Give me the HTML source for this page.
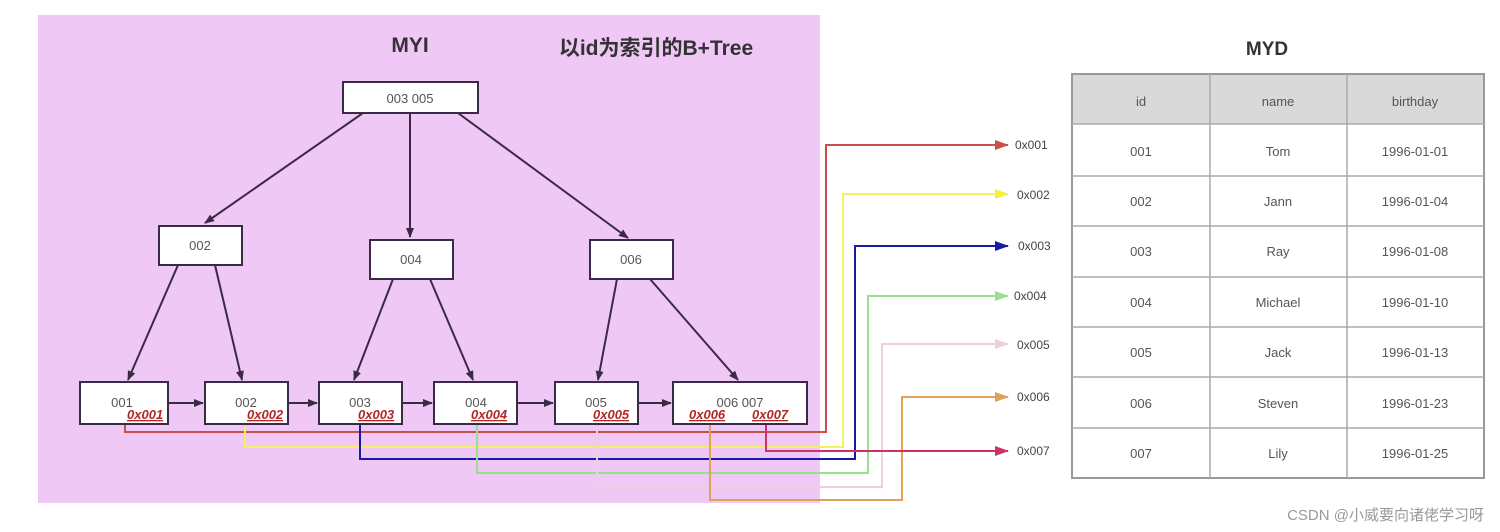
<!DOCTYPE html>
<html><head><meta charset="utf-8"><style>
html,body{margin:0;padding:0;background:#fff;width:1500px;height:532px;overflow:hidden}
svg text{font-family:"Liberation Sans","Noto Sans CJK SC",sans-serif}
</style></head><body>
<svg width="1500" height="532" viewBox="0 0 1500 532" xmlns="http://www.w3.org/2000/svg">
<defs>
<marker id="ab" markerWidth="10" markerHeight="8" refX="9" refY="4" orient="auto" markerUnits="userSpaceOnUse"><path d="M0,0 L10,4 L0,8 z" fill="#3a2a45"/></marker>
<marker id="m1" markerWidth="14" markerHeight="10" refX="13" refY="5" orient="auto" markerUnits="userSpaceOnUse"><path d="M0,0 L14,5 L0,10 z" fill="#c8504a"/></marker>
<marker id="m2" markerWidth="14" markerHeight="10" refX="13" refY="5" orient="auto" markerUnits="userSpaceOnUse"><path d="M0,0 L14,5 L0,10 z" fill="#f4f040"/></marker>
<marker id="m3" markerWidth="14" markerHeight="10" refX="13" refY="5" orient="auto" markerUnits="userSpaceOnUse"><path d="M0,0 L14,5 L0,10 z" fill="#1a1aa8"/></marker>
<marker id="m4" markerWidth="14" markerHeight="10" refX="13" refY="5" orient="auto" markerUnits="userSpaceOnUse"><path d="M0,0 L14,5 L0,10 z" fill="#98e090"/></marker>
<marker id="m5" markerWidth="14" markerHeight="10" refX="13" refY="5" orient="auto" markerUnits="userSpaceOnUse"><path d="M0,0 L14,5 L0,10 z" fill="#ecd0e0"/></marker>
<marker id="m6" markerWidth="14" markerHeight="10" refX="13" refY="5" orient="auto" markerUnits="userSpaceOnUse"><path d="M0,0 L14,5 L0,10 z" fill="#e0a058"/></marker>
<marker id="m7" markerWidth="14" markerHeight="10" refX="13" refY="5" orient="auto" markerUnits="userSpaceOnUse"><path d="M0,0 L14,5 L0,10 z" fill="#d03068"/></marker>
</defs>
<rect x="38" y="15" width="782" height="488" fill="#f0c8f6"/>
<text x="410" y="52" font-size="21" font-weight="bold" fill="#333" text-anchor="middle">MYI</text>
<text x="656" y="55" font-size="21" font-weight="bold" fill="#333" text-anchor="middle">以id为索引的B+Tree</text>
<text x="1267" y="55" font-size="19" font-weight="bold" fill="#333" text-anchor="middle">MYD</text>

<g fill="none" stroke-width="2">
<path d="M125,424 V432 H826 V145 H1008" stroke="#c8504a" marker-end="url(#m1)"/>
<path d="M245,424 V447 H843 V194 H1008" stroke="#f4f060" marker-end="url(#m2)"/>
<path d="M360,424 V459 H855 V246 H1008" stroke="#1a1aa8" marker-end="url(#m3)"/>
<path d="M477,424 V473 H868 V296 H1008" stroke="#98e090" marker-end="url(#m4)"/>
<path d="M597,424 V487 H882 V344 H1008" stroke="#ecd0e0" marker-end="url(#m5)"/>
<path d="M710,424 V500 H902 V397 H1008" stroke="#e0a058" marker-end="url(#m6)"/>
<path d="M766,424 V451 H1008" stroke="#d03068" marker-end="url(#m7)"/>
</g>
<g font-size="12" fill="#444">
<text x="1015" y="149">0x001</text><text x="1017" y="199">0x002</text><text x="1018" y="250">0x003</text>
<text x="1014" y="300">0x004</text><text x="1017" y="349">0x005</text><text x="1017" y="401">0x006</text><text x="1017" y="455">0x007</text>
</g>

<g stroke="#3a2a45" stroke-width="2" fill="none" marker-end="url(#ab)">
<line x1="363" y1="113" x2="205" y2="223"/>
<line x1="410" y1="113" x2="410" y2="237"/>
<line x1="458" y1="113" x2="628" y2="238"/>
<line x1="178" y1="265" x2="128" y2="380"/>
<line x1="215" y1="265" x2="242" y2="380"/>
<line x1="393" y1="279" x2="354" y2="380"/>
<line x1="430" y1="279" x2="473" y2="380"/>
<line x1="617" y1="279" x2="598" y2="380"/>
<line x1="650" y1="279" x2="738" y2="380"/>
<line x1="168" y1="403" x2="203" y2="403"/>
<line x1="288" y1="403" x2="317" y2="403"/>
<line x1="402" y1="403" x2="432" y2="403"/>
<line x1="517" y1="403" x2="553" y2="403"/>
<line x1="638" y1="403" x2="671" y2="403"/>
</g>
<g fill="#fff" stroke="#3a2a45" stroke-width="2">
<rect x="343" y="82" width="135" height="31"/>
<rect x="159" y="226" width="83" height="39"/>
<rect x="370" y="240" width="83" height="39"/>
<rect x="590" y="240" width="83" height="39"/>
<rect x="80" y="382" width="88" height="42"/>
<rect x="205" y="382" width="83" height="42"/>
<rect x="319" y="382" width="83" height="42"/>
<rect x="434" y="382" width="83" height="42"/>
<rect x="555" y="382" width="83" height="42"/>
<rect x="673" y="382" width="134" height="42"/>
</g>
<g font-size="13" fill="#555" text-anchor="middle">
<text x="410" y="103">003  005</text>
<text x="200" y="250">002</text><text x="411" y="264">004</text><text x="631" y="264">006</text>
<text x="122" y="407">001</text><text x="246" y="407">002</text><text x="360" y="407">003</text>
<text x="476" y="407">004</text><text x="596" y="407">005</text><text x="740" y="407">006  007</text>
</g>
<g font-size="13" fill="#b02828" font-weight="bold" font-style="italic" text-decoration="underline">
<text x="127" y="419">0x001</text><text x="247" y="419">0x002</text><text x="358" y="419">0x003</text>
<text x="471" y="419">0x004</text><text x="593" y="419">0x005</text><text x="689" y="419">0x006</text><text x="752" y="419">0x007</text>
</g>

<g>
<rect x="1072" y="74" width="412" height="50" fill="#d9d9d9"/>
<rect x="1072" y="74" width="412" height="404" fill="none" stroke="#999" stroke-width="2"/>
<g stroke="#aaa" stroke-width="1.5">
<line x1="1210" y1="74" x2="1210" y2="478"/><line x1="1347" y1="74" x2="1347" y2="478"/>
<line x1="1072" y1="124" x2="1484" y2="124"/><line x1="1072" y1="176" x2="1484" y2="176"/>
<line x1="1072" y1="226" x2="1484" y2="226"/><line x1="1072" y1="277" x2="1484" y2="277"/>
<line x1="1072" y1="327" x2="1484" y2="327"/><line x1="1072" y1="377" x2="1484" y2="377"/>
<line x1="1072" y1="428" x2="1484" y2="428"/>
</g>
<g font-size="13" fill="#555" text-anchor="middle">
<text x="1141" y="106">id</text><text x="1278" y="106">name</text><text x="1415" y="106">birthday</text>
<text x="1141" y="156">001</text><text x="1278" y="156">Tom</text><text x="1415" y="156">1996-01-01</text>
<text x="1141" y="206">002</text><text x="1278" y="206">Jann</text><text x="1415" y="206">1996-01-04</text>
<text x="1141" y="256">003</text><text x="1278" y="256">Ray</text><text x="1415" y="256">1996-01-08</text>
<text x="1141" y="307">004</text><text x="1278" y="307">Michael</text><text x="1415" y="307">1996-01-10</text>
<text x="1141" y="357">005</text><text x="1278" y="357">Jack</text><text x="1415" y="357">1996-01-13</text>
<text x="1141" y="408">006</text><text x="1278" y="408">Steven</text><text x="1415" y="408">1996-01-23</text>
<text x="1141" y="458">007</text><text x="1278" y="458">Lily</text><text x="1415" y="458">1996-01-25</text>
</g>
</g>
<text x="1484" y="520" font-size="15" fill="#999" text-anchor="end">CSDN @小威要向诸佬学习呀</text>
</svg>
</body></html>
